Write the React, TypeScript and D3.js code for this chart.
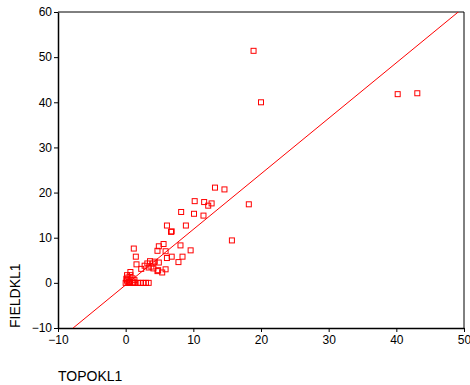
import React, { useEffect, useRef } from 'react';
import * as d3 from 'd3';

// TOPOKL1 vs FIELDKL1
const topo = [
  18.9, 20.0, 40.2, 43.1, 15.7, 18.2, 14.6, 13.2, 12.7, 12.2, 11.6, 10.2,
  8.2, 10.1, 11.5, 6.1, 8.9, 6.7, 6.8, 9.6, 8.1, 4.9, 5.6, 4.7, 5.9, 1.2,
  1.5, 6.8, 6.1, 8.4, 7.8, 3.6, 4.3, 4.9, 3.2, 4.0, 2.8, 1.6, 2.3, 4.1,
  4.8, 5.9, 5.4, 4.7, 3.4, 3.8, 0.7, 0.2, 0.7, 0.4, 1.0, 0.1, 1.3, 0.2,
  0.6, 0.0, 0.3, 0.6, 1.0, 1.4, 1.8, 2.2, 2.6, 3.0, 3.4, 0.5, 1.2,
];
const field = [
  51.4, 40.0, 41.8, 42.0, 9.4, 17.4, 20.7, 21.1, 17.6, 17.1, 17.9, 18.1,
  15.7, 15.3, 14.9, 12.7, 12.7, 11.3, 11.4, 7.2, 8.3, 8.1, 8.6, 7.1, 7.0, 7.6,
  5.8, 5.8, 5.5, 5.8, 4.6, 4.8, 4.7, 4.5, 4.3, 4.3, 3.8, 4.1, 3.1, 3.2,
  2.8, 3.0, 2.3, 2.6, 3.4, 3.6, 2.4, 1.7, 1.7, 1.2, 1.0, 0.9, 0.6, 0.5,
  0.3, 0.0, 0.0, 0.0, 0.0, 0.0, 0.0, 0.0, 0.0, 0.0, 0.0, 0.2, 0.1,
];
const xTicks = [-10, 0, 10, 20, 30, 40, 50];
const yTicks = [-10, 0, 10, 20, 30, 40, 50, 60];
// fitted line (intercept, slope)
const fit = [-0.45, 1.23];

export default function App() {
  const svgRef = useRef<SVGSVGElement>(null);

  useEffect(() => {
    if (!svgRef.current) return;
    const svg = d3.select(svgRef.current);
    svg.selectAll('*').remove();

    const margin = { top: 12, right: 6, bottom: 57, left: 58 };
    const width = 470, height = 385;
    const x = d3.scaleLinear().domain([-10, 50]).range([margin.left, width - margin.right]);
    const y = d3.scaleLinear().domain([-10, 60]).range([height - margin.bottom, margin.top]);
    const font = 'Liberation Sans, Arial, sans-serif';

    // clip for the fit line
    svg.append('clipPath').attr('id', 'plot-clip')
      .append('rect')
      .attr('x', x(-10)).attr('y', y(60))
      .attr('width', x(50) - x(-10)).attr('height', y(-10) - y(60));

    // frame: top + right thin
    svg.append('path')
      .attr('d', `M${x(-10)},${y(60)}H${x(50)}V${y(-10)}`)
      .attr('fill', 'none').attr('stroke', '#000').attr('stroke-width', 1);

    const xAxis = svg.append('g').attr('transform', `translate(0,${y(-10)})`)
      .call(d3.axisBottom(x).tickValues(xTicks).tickSize(4).tickPadding(3).tickSizeOuter(0));
    const yAxis = svg.append('g').attr('transform', `translate(${x(-10)},0)`)
      .call(d3.axisLeft(y).tickValues(yTicks).tickSize(4).tickPadding(2).tickSizeOuter(0));
    [xAxis, yAxis].forEach(g => {
      g.select('.domain').attr('stroke-width', 1.5);
      g.selectAll('text').attr('font-size', 12).attr('font-family', font).attr('fill', '#000');
    });

    // regression line
    svg.append('line')
      .attr('clip-path', 'url(#plot-clip)')
      .attr('x1', x(-10)).attr('y1', y(fit[0] + fit[1] * -10))
      .attr('x2', x(50)).attr('y2', y(fit[0] + fit[1] * 50))
      .attr('stroke', '#ff0000').attr('stroke-width', 1);

    // points
    const s = 5;
    svg.append('g').selectAll('rect')
      .data(topo.map((t, i) => [t, field[i]]))
      .join('rect')
      .attr('x', d => x(d[0]) - s / 2)
      .attr('y', d => y(d[1]) - s / 2)
      .attr('width', s).attr('height', s)
      .attr('fill', 'none').attr('stroke', '#ff0000').attr('stroke-width', 1);

    // axis titles
    svg.append('text')
      .attr('transform', `translate(20,${y(-10)}) rotate(-90)`)
      .attr('font-family', font).attr('font-size', 14)
      .text('FIELDKL1');
    svg.append('text')
      .attr('x', x(-10)).attr('y', 381)
      .attr('font-family', font).attr('font-size', 14)
      .text('TOPOKL1');
  }, []);

  return (
    <svg ref={svgRef} width={470} height={385}
      style={{ position: 'absolute', left: 0, top: 0, background: '#fff' }} />
  );
}
